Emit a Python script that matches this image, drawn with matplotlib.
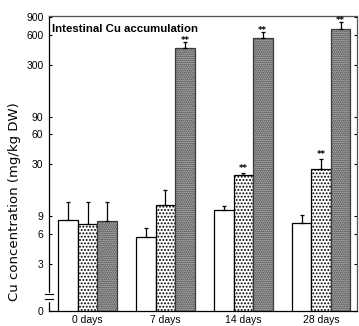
import numpy as np
import matplotlib
matplotlib.use("Agg")
import matplotlib.pyplot as plt

# data (mg/kg DW)
days = ["0 days", "7 days", "14 days", "28 days"]
control = [8.2, 5.5, 10.4, 7.7]
control_err = [4.2, 1.4, 1.0, 1.5]
low_cu = [7.5, 11.6, 23.1, 27.0]
low_cu_err = [4.9, 4.9, 1.5, 7.0]
high_cu = [8.0, 448, 564, 693]
high_cu_err = [4.4, 61, 77, 114]
low_sig = ["", "", "**", "**"]
high_sig = ["", "**", "**", "**"]

ytick_vals = [1, 3, 6, 9, 30, 60, 90, 300, 600, 900]
ytick_labels = ["0", "3", "6", "9", "30", "60", "90", "300", "600", "900"]

narrow = ["Liberation Sans Narrow", "Liberation Sans", "DejaVu Sans"]
plt.rcParams["hatch.linewidth"] = 0.9

fig = plt.figure(figsize=(3.59, 3.26), dpi=100)
ax = fig.add_axes([0.1365, 0.046, 0.858, 0.905])

x = np.arange(len(days))
w = 0.25
ekw = dict(elinewidth=0.9, capthick=0.9)
ax.bar(x - w, control, w, yerr=[np.zeros(4), control_err], color="white",
       edgecolor="black", linewidth=0.9, capsize=1.2, error_kw=ekw)
ax.bar(x, low_cu, w, yerr=[np.zeros(4), low_cu_err], color="white",
       edgecolor="black", hatch=".....", linewidth=0.9, capsize=1.2,
       error_kw=ekw)
ax.bar(x + w, high_cu, w, yerr=[np.zeros(4), high_cu_err], color="#b4b4b4",
       edgecolor="#3a3a3a", hatch="........", linewidth=0.9, capsize=1.2,
       error_kw=ekw)

# significance marks sit just on top of the error bars
for i in range(len(days)):
    if low_sig[i]:
        ax.annotate(low_sig[i], (x[i], low_cu[i] + low_cu_err[i]),
                    xytext=(0, 3), textcoords="offset points",
                    ha="center", va="center", fontsize=6, fontweight="bold")
    if high_sig[i]:
        ax.annotate(high_sig[i], (x[i] + w, high_cu[i] + high_cu_err[i]),
                    xytext=(0, 1), textcoords="offset points",
                    ha="center", va="center", fontsize=6, fontweight="bold")

ax.set_yscale("log")
ax.set_ylim(1, 930)
ax.set_xlim(-0.495, 3.46)
ax.set_yticks(ytick_vals)
ax.set_yticklabels(ytick_labels, family=narrow, fontsize=7.5)
ax.minorticks_off()
ax.set_xticks(x)
ax.set_xticklabels(days, family=narrow, fontsize=7.5)
ax.tick_params(axis="x", length=0, pad=3)
ax.tick_params(axis="y", length=2, direction="in", right=True, pad=4)
for s in ax.spines.values():
    s.set_linewidth(0.9)
ax.spines["top"].set_color("#555555")
ax.spines["right"].set_color("#555555")

ax.text(0.01, 0.972, "Intestinal Cu accumulation", transform=ax.transAxes,
        ha="left", va="top", fontsize=8.2, fontweight="bold", family=narrow)

ax.set_ylabel("Cu concentration (mg/kg DW)", fontsize=9.5)
ax.yaxis.set_label_coords(-0.09, 0.37)

# axis break mark on the left spine
ax.plot([0, 0], [0.038, 0.058], transform=ax.transAxes, color="white",
        linewidth=2.5, clip_on=False, zorder=5)
for yb in (0.04, 0.056):
    ax.plot([-0.014, 0.014], [yb, yb], transform=ax.transAxes, color="black",
            linewidth=0.8, clip_on=False, zorder=6)

fig.savefig("out.png", dpi=100)
